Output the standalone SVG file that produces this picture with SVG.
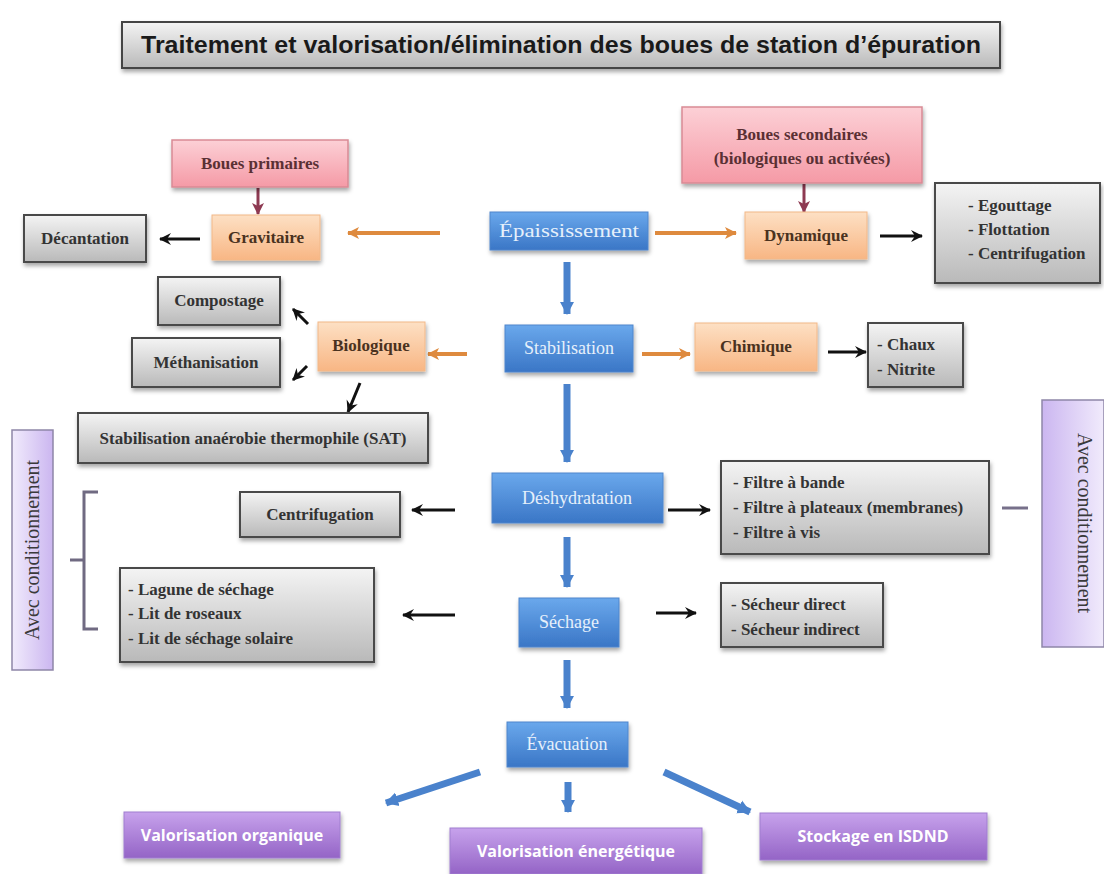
<svg xmlns="http://www.w3.org/2000/svg" width="1104" height="874" viewBox="0 0 1104 874">
<defs>
<linearGradient id="gGray" x1="0" y1="0" x2="0" y2="1"><stop offset="0" stop-color="#f4f4f4"/><stop offset="1" stop-color="#b9b9b9"/></linearGradient>
<linearGradient id="gBlue" x1="0" y1="0" x2="0" y2="1"><stop offset="0" stop-color="#6aa8ec"/><stop offset="1" stop-color="#3a76c6"/></linearGradient>
<linearGradient id="gOrange" x1="0" y1="0" x2="0" y2="1"><stop offset="0" stop-color="#fde0c4"/><stop offset="1" stop-color="#f8b684"/></linearGradient>
<linearGradient id="gPink" x1="0" y1="0" x2="0" y2="1"><stop offset="0" stop-color="#fcd0d6"/><stop offset="1" stop-color="#f59aa6"/></linearGradient>
<linearGradient id="gPurple" x1="0" y1="0" x2="0" y2="1"><stop offset="0" stop-color="#c7a2ec"/><stop offset="1" stop-color="#9464c6"/></linearGradient>
<linearGradient id="gLav" x1="0" y1="0" x2="1" y2="0"><stop offset="0" stop-color="#f1ebfc"/><stop offset="1" stop-color="#cbb6f0"/></linearGradient>
<linearGradient id="gLavR" x1="1" y1="0" x2="0" y2="0"><stop offset="0" stop-color="#f1ebfc"/><stop offset="1" stop-color="#cbb6f0"/></linearGradient>
<filter id="sh" x="-10%" y="-20%" width="130%" height="160%"><feDropShadow dx="1" dy="3" stdDeviation="2" flood-color="#000" flood-opacity="0.35"/></filter>
<marker id="aK" markerUnits="userSpaceOnUse" markerWidth="14" markerHeight="14" refX="11" refY="7" orient="auto"><path d="M0,1 L12,7 L0,13 L4,7 z" fill="#111"/></marker>
<marker id="aO" markerUnits="userSpaceOnUse" markerWidth="14" markerHeight="14" refX="11" refY="7" orient="auto"><path d="M0,1 L12,7 L0,13 L3,7 z" fill="#de8a3e"/></marker>
<marker id="aR" markerUnits="userSpaceOnUse" markerWidth="14" markerHeight="14" refX="11" refY="7" orient="auto"><path d="M0,1 L12,7 L0,13 L3,7 z" fill="#8e3a52"/></marker>
<marker id="aB" markerUnits="userSpaceOnUse" markerWidth="16" markerHeight="18" refX="12" refY="9" orient="auto"><path d="M0,2 L13,9 L0,16 z" fill="#4a82cc"/></marker>
</defs>
<style>
.gray{fill:url(#gGray);stroke:#4a4a4a;stroke-width:2;filter:url(#sh)}
.blue{fill:url(#gBlue);stroke:#4f86cc;stroke-width:1;filter:url(#sh)}
.orange{fill:url(#gOrange);stroke:#f2b888;stroke-width:1;filter:url(#sh)}
.pink{fill:url(#gPink);stroke:#d98a95;stroke-width:1.5;filter:url(#sh)}
.purple{fill:url(#gPurple);stroke:#a07ed0;stroke-width:1;filter:url(#sh)}
.lav{stroke:#8e86a8;stroke-width:1.5}
text{font-family:"Liberation Serif","DejaVu Serif",serif;font-size:17px;font-weight:bold}
.tg{fill:#333333}
.tb{fill:#e6f0fb;text-anchor:middle;font-weight:normal;font-size:18px}
.to{fill:#4a3220;text-anchor:middle}
.tp{fill:#5a3034;text-anchor:middle}
.tv{fill:#ffffff;font-family:"Open Sans","Liberation Sans",sans-serif;font-weight:bold;font-size:16px;text-anchor:middle}
.ta{fill:#3a3a3a;text-anchor:middle;font-weight:normal;font-size:20px}
.c{text-anchor:middle}
.k{stroke:#111;stroke-width:3;fill:none;marker-end:url(#aK)}
.o{stroke:#de8a3e;stroke-width:4;fill:none;marker-end:url(#aO)}
.r{stroke:#8e3a52;stroke-width:3;fill:none;marker-end:url(#aR)}
.b{stroke:#4a82cc;stroke-width:7;fill:none;marker-end:url(#aB)}
</style>
<rect width="1104" height="874" fill="#ffffff"/>

<g id="title">
<rect x="122" y="22" width="878" height="46" fill="url(#gGray)" stroke="#444" stroke-width="2" filter="url(#sh)"/>
<text x="561" y="53" text-anchor="middle" textLength="840" lengthAdjust="spacingAndGlyphs" style="font-family:'Liberation Sans',Arial,sans-serif;font-weight:bold;font-size:23px;fill:#1a1a1a">Traitement et valorisation/élimination des boues de station d’épuration</text>
</g>

<g id="connectors">
<line class="r" x1="258" y1="188" x2="258" y2="214"/>
<line class="r" x1="804" y1="184" x2="804" y2="212"/>
<line class="o" x1="440" y1="233" x2="348" y2="233"/>
<line class="o" x1="655" y1="233" x2="736" y2="233"/>
<line class="k" x1="200" y1="239" x2="160" y2="239"/>
<line class="k" x1="880" y1="236" x2="922" y2="236"/>
<line class="b" x1="567" y1="262" x2="567" y2="314"/>
<line class="o" x1="467" y1="354" x2="428" y2="354"/>
<line class="o" x1="642" y1="354" x2="690" y2="354"/>
<line class="k" x1="828" y1="352" x2="866" y2="352"/>
<line class="k" x1="308" y1="324" x2="293" y2="309"/>
<line class="k" x1="307" y1="366" x2="293" y2="380"/>
<line class="k" x1="360" y1="383" x2="348" y2="412"/>
<line class="b" x1="567" y1="384" x2="567" y2="462"/>
<line class="k" x1="455" y1="510" x2="412" y2="510"/>
<line class="k" x1="668" y1="510" x2="710" y2="510"/>
<line x1="1002" y1="508" x2="1028" y2="508" stroke="#77708a" stroke-width="3"/>
<line class="b" x1="567" y1="537" x2="567" y2="587"/>
<line class="k" x1="455" y1="615" x2="403" y2="615"/>
<line class="k" x1="656" y1="613" x2="696" y2="613"/>
<line class="b" x1="567" y1="660" x2="567" y2="708"/>
<line class="b" x1="480" y1="772" x2="386" y2="803"/>
<line class="b" x1="568" y1="782" x2="568" y2="812"/>
<line class="b" x1="664" y1="772" x2="750" y2="812"/>
<path d="M98,492 H84 V629 H98 M84,560 H70" fill="none" stroke="#706a82" stroke-width="3"/>
</g>

<g id="boues-primaires"><rect class="pink" x="172" y="140" width="176" height="47"/><text class="tp" x="260" y="169">Boues primaires</text></g>
<g id="boues-secondaires"><rect class="pink" x="682" y="107" width="240" height="76"/><text class="tp" x="802" y="140">Boues secondaires</text><text class="tp" x="802" y="164">(biologiques ou activées)</text></g>
<g id="gravitaire"><rect class="orange" x="212" y="215" width="108" height="45"/><text class="to" x="266" y="243">Gravitaire</text></g>
<g id="decantation"><rect class="gray" x="24" y="215" width="122" height="47"/><text class="tg c" x="85" y="244">Décantation</text></g>
<g id="epaississement"><rect class="blue" x="490" y="212" width="158" height="38"/><text class="tb" x="569" y="237" textLength="140" lengthAdjust="spacingAndGlyphs">Épaississement</text></g>
<g id="dynamique"><rect class="orange" x="745" y="212" width="122" height="47"/><text class="to" x="806" y="241">Dynamique</text></g>
<g id="dyn-list"><rect class="gray" x="935" y="183" width="165" height="100"/><text class="tg" x="968" y="211">- Egouttage</text><text class="tg" x="968" y="235">- Flottation</text><text class="tg" x="968" y="259">- Centrifugation</text></g>
<g id="stabilisation"><rect class="blue" x="505" y="325" width="128" height="47"/><text class="tb" x="569" y="354">Stabilisation</text></g>
<g id="biologique"><rect class="orange" x="318" y="322" width="107" height="49"/><text class="to" x="371" y="351">Biologique</text></g>
<g id="chimique"><rect class="orange" x="695" y="323" width="122" height="48"/><text class="to" x="756" y="352">Chimique</text></g>
<g id="chim-list"><rect class="gray" x="868" y="323" width="95" height="64"/><text class="tg" x="877" y="350">- Chaux</text><text class="tg" x="877" y="375">- Nitrite</text></g>
<g id="compostage"><rect class="gray" x="158" y="277" width="122" height="48"/><text class="tg c" x="219" y="306">Compostage</text></g>
<g id="methanisation"><rect class="gray" x="132" y="338" width="148" height="49"/><text class="tg c" x="206" y="368">Méthanisation</text></g>
<g id="sat"><rect class="gray" x="78" y="413" width="350" height="50"/><text class="tg c" x="253" y="444">Stabilisation anaérobie thermophile (SAT)</text></g>
<g id="avec-gauche"><rect class="lav" x="12" y="430" width="41" height="240" fill="url(#gLav)"/><text class="ta" transform="translate(39,550) rotate(-90)">Avec conditionnement</text></g>
<g id="deshydratation"><rect class="blue" x="492" y="473" width="171" height="50"/><text class="tb" x="577" y="504">Déshydratation</text></g>
<g id="centrifugation"><rect class="gray" x="240" y="492" width="160" height="45"/><text class="tg c" x="320" y="520">Centrifugation</text></g>
<g id="filtres"><rect class="gray" x="721" y="461" width="268" height="93"/><text class="tg" x="733" y="488">- Filtre à bande</text><text class="tg" x="733" y="513">- Filtre à plateaux (membranes)</text><text class="tg" x="733" y="538">- Filtre à vis</text></g>
<g id="avec-droite"><rect class="lav" x="1042" y="400" width="62" height="247" fill="url(#gLavR)"/><text class="ta" transform="translate(1078,523) rotate(90)">Avec conditionnement</text></g>
<g id="sechage"><rect class="blue" x="519" y="598" width="100" height="49"/><text class="tb" x="569" y="628">Séchage</text></g>
<g id="lagune"><rect class="gray" x="120" y="568" width="254" height="94"/><text class="tg" x="128" y="595">- Lagune de séchage</text><text class="tg" x="128" y="619">- Lit de roseaux</text><text class="tg" x="128" y="644">- Lit de séchage solaire</text></g>
<g id="secheurs"><rect class="gray" x="721" y="583" width="162" height="64"/><text class="tg" x="731" y="610">- Sécheur direct</text><text class="tg" x="731" y="635">- Sécheur indirect</text></g>
<g id="evacuation"><rect class="blue" x="507" y="722" width="121" height="45"/><text class="tb" x="567" y="750">Évacuation</text></g>
<g id="valorisation-organique"><rect class="purple" x="124" y="812" width="216" height="46"/><text class="tv" x="232" y="841">Valorisation organique</text></g>
<g id="valorisation-energetique"><rect class="purple" x="450" y="828" width="252" height="46"/><text class="tv" x="576" y="857">Valorisation énergétique</text></g>
<g id="stockage"><rect class="purple" x="760" y="813" width="227" height="47"/><text class="tv" x="873" y="842">Stockage en ISDND</text></g>
</svg>
